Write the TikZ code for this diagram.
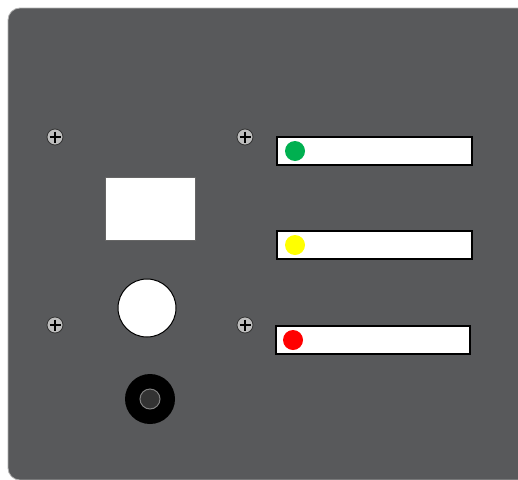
\documentclass[tikz,border=0pt]{standalone}
\definecolor{panelgrey}{HTML}{58595B}
\definecolor{screwgrey}{HTML}{BDBDBD}
\definecolor{jackgrey}{HTML}{333333}
\definecolor{ledgreen}{HTML}{00B050}
\definecolor{ledyellow}{HTML}{FFFF00}
\begin{document}
\begin{tikzpicture}[x=1pt, y=-1pt, thick, cap=round,
    screw/.style={circle, draw=black!80, fill=screwgrey, line width=0.8pt, minimum size=16pt, inner sep=0pt},
    strip/.style={draw=black, fill=white, line width=1.6pt}]
        \useasboundingbox (0,0) rectangle (518,479);
        \clip (0,0) rectangle (518,479);
        \fill[white] (0,0) rectangle (518,479);

        % panel
        \draw[fill=panelgrey, draw=black!30, line width=0.8pt, rounded corners=12pt] (8,8) rectangle (560,480);

        % screws
        \foreach \sx/\sy in {55/137, 245/137, 55/325, 245/325} {
            \node[screw] at (\sx,\sy) {};
            \draw[line width=2.6pt, cap=butt] (\sx-5.5,\sy)--(\sx+5.5,\sy);
            \draw[line width=2.6pt, cap=butt] (\sx,\sy-5.5)--(\sx,\sy+5.5);
        }

        % display window and button
        \draw[fill=white, draw=black!60, line width=0.6pt] (105,177) rectangle (195,240);
        \draw[fill=white, draw=black, line width=1pt] (147,308) circle (29);

        % jack
        \fill[black] (150,399) circle (25);
        \draw[fill=jackgrey, draw=gray, line width=1pt] (150,399) circle (10);

        % label strips
        \draw[strip] (277,137) rectangle (472,165);
        \fill[ledgreen] (295,151) circle (10);
        \draw[strip] (277,231) rectangle (472,259);
        \fill[ledyellow] (295,245) circle (10);
        \draw[strip] (276,326) rectangle (470,354);
        \fill[red] (293,340) circle (10);
      \end{tikzpicture}
\end{document}
